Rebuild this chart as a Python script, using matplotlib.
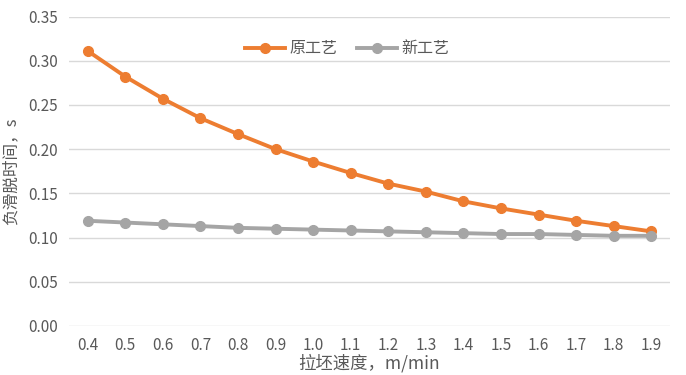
import numpy as np
import matplotlib
matplotlib.use("Agg")
import matplotlib.pyplot as plt

plt.rcParams['font.family'] = ['Noto Sans CJK SC', 'DejaVu Sans']

# 数据
speeds = ['0.4', '0.5', '0.6', '0.7', '0.8', '0.9', '1.0', '1.1',
          '1.2', '1.3', '1.4', '1.5', '1.6', '1.7', '1.8', '1.9']
old_process = [0.311, 0.282, 0.257, 0.235, 0.217, 0.200, 0.186, 0.173,
               0.161, 0.152, 0.141, 0.133, 0.126, 0.119, 0.113, 0.107]
new_process = [0.119, 0.117, 0.115, 0.113, 0.111, 0.110, 0.109, 0.108,
               0.107, 0.106, 0.105, 0.104, 0.104, 0.103, 0.102, 0.102]
yticks = [0.00, 0.05, 0.10, 0.15, 0.20, 0.25, 0.30, 0.35]

text_color = '#595959'
grid_color = '#d9d9d9'

fig = plt.figure(figsize=(6.86, 3.75), dpi=100)
ax = fig.add_axes([69 / 686, 1 - 326 / 375, (670 - 69) / 686, (326 - 16.5) / 375])

x = np.arange(len(speeds))
ax.plot(x, old_process, '-o', color='#ed7d31', lw=2.8, ms=7, label='原工艺', zorder=3)
ax.plot(x, new_process, '-o', color='#a5a5a5', lw=2.8, ms=7, label='新工艺', zorder=3)

ax.set_xlim(-0.5, len(speeds) - 0.5)
ax.set_ylim(0, 0.35)
ax.set_yticks(yticks)
ax.set_yticklabels([f'{v:.2f}' for v in yticks])
ax.set_xticks(x)
ax.set_xticklabels(speeds)
ax.tick_params(length=0, labelsize=11, colors=text_color, pad=8)
ax.grid(axis='y', color=grid_color, lw=1)
ax.set_axisbelow(True)
for s in ax.spines.values():
    s.set_visible(False)

ax.set_xlabel('拉坯速度，m/min', fontsize=12.5, color=text_color, labelpad=0)
ax.set_ylabel('负滑脱时间，s', fontsize=12, color=text_color, labelpad=6)

ax.legend(loc='upper center', bbox_to_anchor=(0.463, 0.97), ncol=2, frameon=False,
          fontsize=11.5, labelcolor=text_color, handlelength=2.5,
          handletextpad=0.3, columnspacing=1.2)

fig.savefig('out.png', dpi=100)
